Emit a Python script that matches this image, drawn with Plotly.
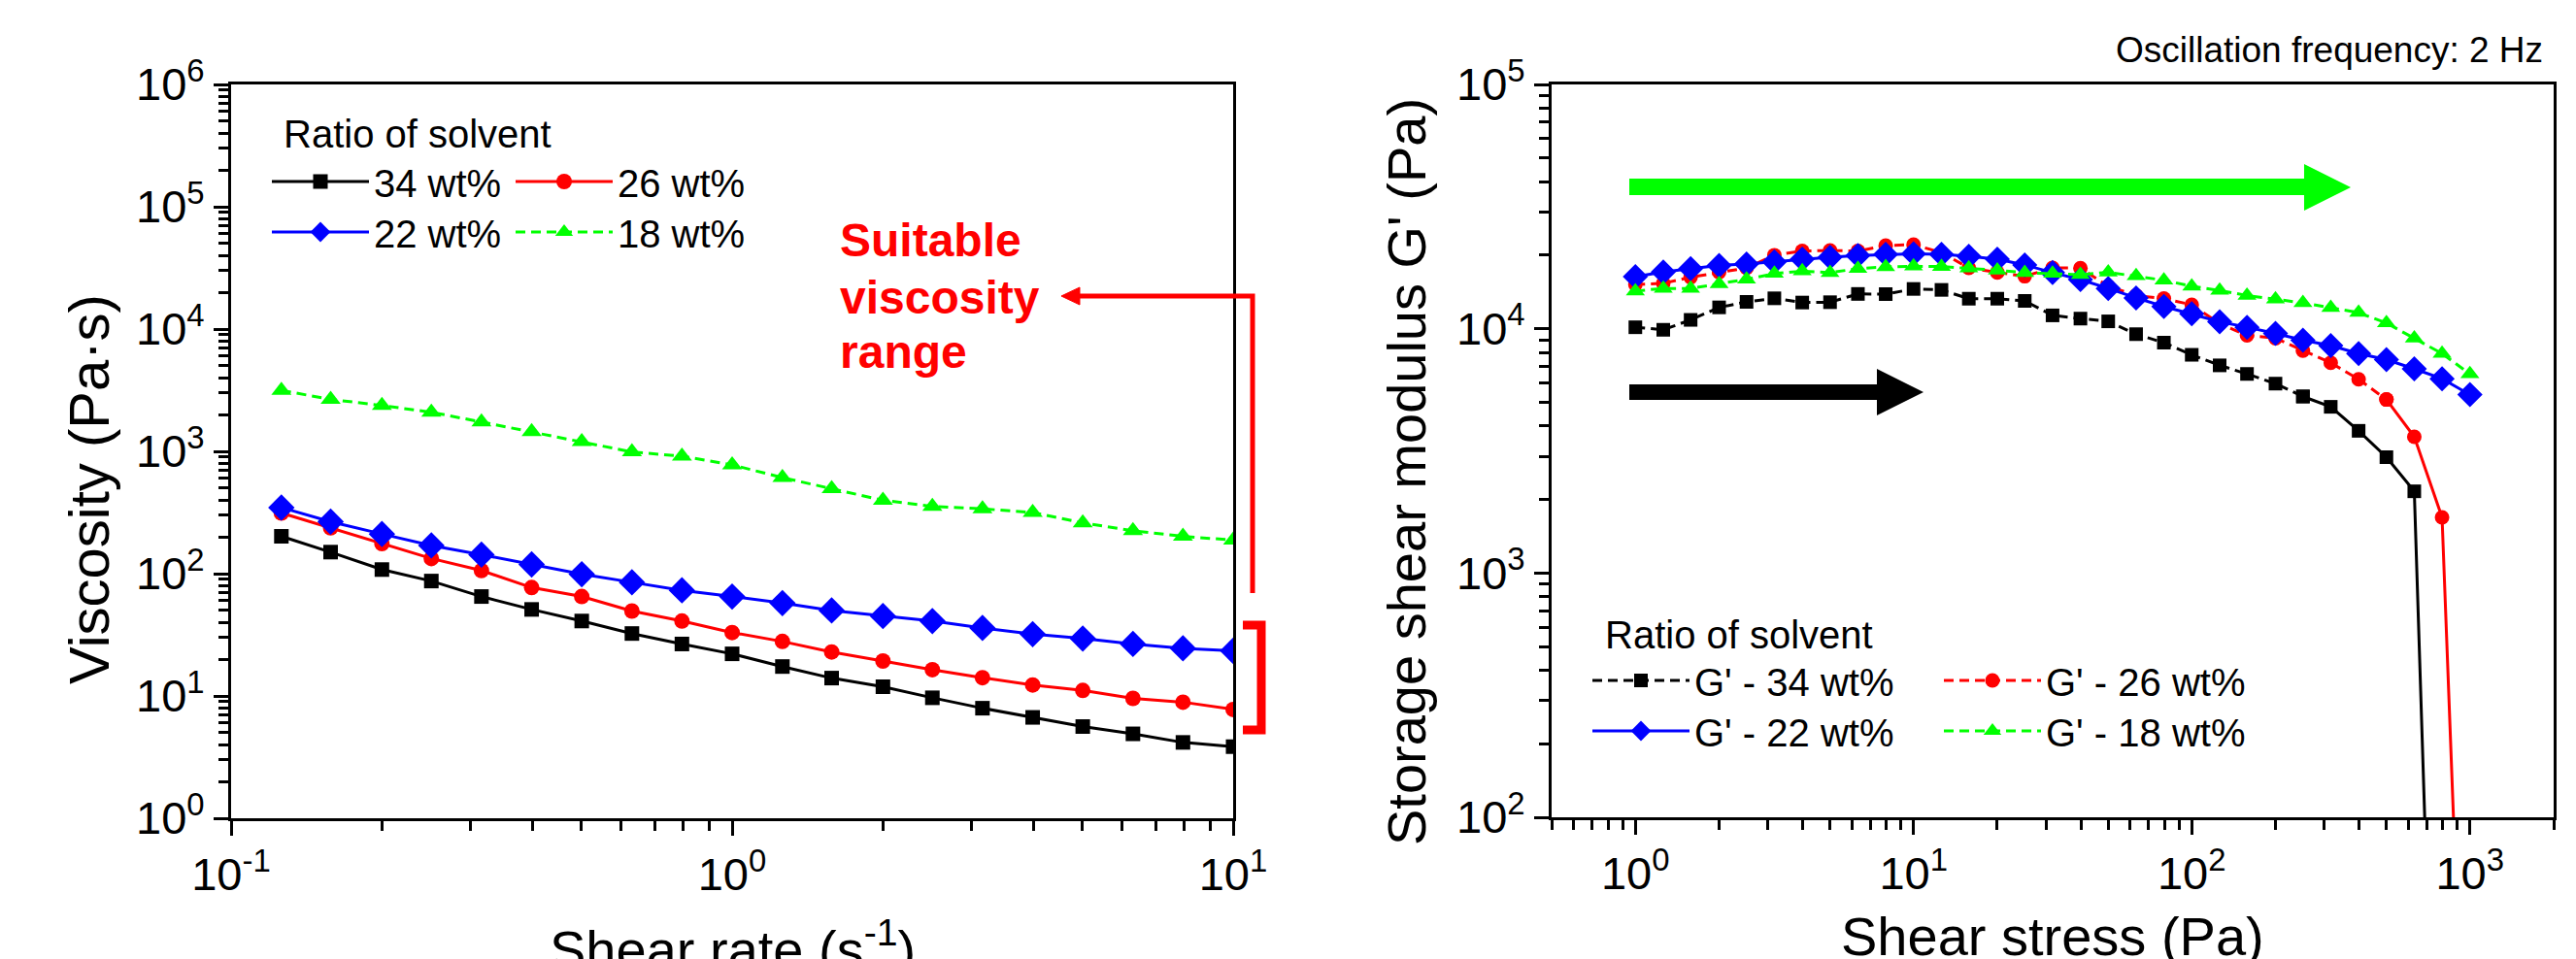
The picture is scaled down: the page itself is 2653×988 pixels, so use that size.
import plotly.graph_objects as go

W, H = 2653, 988

# ---------------- data ----------------
shear_rate = [0.126, 0.158, 0.2, 0.251, 0.316, 0.398, 0.501, 0.631, 0.794, 1.0,
              1.26, 1.58, 2.0, 2.51, 3.16, 3.98, 5.01, 6.31, 7.94, 10.0]
visc_34 = [202, 150, 108, 87, 65, 51, 41, 32.4, 26.6, 22.1, 17.4, 14.0, 11.9, 9.66, 7.94, 6.68, 5.62, 4.9, 4.17, 3.85]
visc_26 = [313, 237, 176, 133, 106, 77, 65, 49.5, 41, 33, 27.9, 22.9, 19.3, 16.4, 14.1, 12.3, 11.1, 9.55, 8.9, 7.76]
visc_22 = [347, 266, 211, 170, 143, 119, 99, 85, 73, 65, 57.5, 50, 45, 41, 36, 32, 29.5, 26.6, 24.5, 23.4]
visc_18 = [3150, 2661, 2371, 2089, 1738, 1445, 1202, 989, 912, 776, 610, 495, 398, 355, 339, 316, 260, 224, 202, 188]

shear_stress = [1.0, 1.26, 1.58, 2.0, 2.51, 3.16, 3.98, 5.01, 6.31, 7.94, 10.0, 12.6, 15.8, 20.0, 25.1,
                31.6, 39.8, 50.1, 63.1, 79.4, 100, 126, 158, 200, 251, 316, 398, 501, 631, 794, 1000]
g_34 = [10140, 9900, 10870, 12230, 12880, 13320, 12800, 12840, 13880, 13860, 14550, 14420, 13270, 13270, 13000,
        11340, 11000, 10720, 9500, 8770, 7820, 7080, 6530, 5960, 5280, 4790, 3820, 2980, 2160, 0.6]
g_26 = [15170, 15350, 16250, 17020, 17740, 20000, 20800, 20900, 20800, 21900, 22100, 20500, 17750, 17000, 16400,
        17750, 17700, 14920, 13680, 13290, 12530, 10490, 9400, 9140, 8140, 7250, 6210, 5130, 3610, 1690, 1.7]
g_22 = [16350, 17060, 17620, 18150, 18400, 18790, 19270, 19610, 19950, 20150, 20270, 20150, 19790, 19250, 18250,
        16970, 15900, 14620, 13370, 12330, 11510, 10680, 10140, 9570, 8980, 8530, 7910, 7470, 6850, 6240, 5370]
g_18 = [14260, 14620, 14620, 15270, 15940, 16820, 17210, 16960, 17630, 17920, 18030, 17960, 17720, 17360, 16960,
        16820, 16640, 17020, 16450, 15800, 14920, 14330, 13680, 13210, 12760, 12190, 11640, 10550, 9140, 7910, 6530]

left_names = ["34 wt%", "26 wt%", "22 wt%", "18 wt%"]
right_names = ["G' - 34 wt%", "G' - 26 wt%", "G' - 22 wt%", "G' - 18 wt%"]
legend_title = "Ratio of solvent"

left_xticks = [0.1, 1, 10]
left_xtext = ["10<sup>-1</sup>", "10<sup>0</sup>", "10<sup>1</sup>"]
left_yticks = [1, 10, 100, 1e3, 1e4, 1e5, 1e6]
left_ytext = ["10<sup>%d</sup>" % i for i in range(7)]
right_xticks = [1, 10, 100, 1000]
right_xtext = ["10<sup>%d</sup>" % i for i in range(4)]
right_yticks = [100, 1e3, 1e4, 1e5]
right_ytext = ["10<sup>%d</sup>" % i for i in range(2, 6)]

# ---------------- styles ----------------
FONT = "Liberation Sans, Arial, sans-serif"
colors = ["#000000", "#ff0000", "#0000ff", "#00ff00"]
symbols = ["square", "circle", "diamond", "triangle-up"]
msize = [15, 16, 21, 18]
left_dash = ["solid", "solid", "solid", "10px,6px"]
right_dash = ["10px,6px", "10px,6px", "solid", "10px,6px"]
# index from which the right-panel curve is drawn with a solid line (drop-off part)
solid_from = [24, 27, None, None]


def px(x):
    return x / W


def py(y):
    return 1 - y / H


def minor_vals(lo, hi):
    vals = []
    for e in range(lo, hi):
        for m in range(2, 10):
            vals.append(m * 10 ** e)
    return vals


fig = go.Figure()

left_series = [visc_34, visc_26, visc_22, visc_18]
for i, ys in enumerate(left_series):
    fig.add_trace(go.Scatter(
        x=shear_rate, y=ys, name=left_names[i], mode="lines+markers",
        line=dict(color=colors[i], width=3, dash=left_dash[i]),
        marker=dict(symbol=symbols[i], size=msize[i], color=colors[i]),
        xaxis="x", yaxis="y",
        legend="legend" if i < 2 else "legend2",
    ))

right_series = [g_34, g_26, g_22, g_18]
for i, ys in enumerate(right_series):
    xs = shear_stress[:len(ys)]
    k = solid_from[i]
    if k is not None:
        # solid tail of the curve, drawn beneath the main trace
        fig.add_trace(go.Scatter(
            x=xs[k:], y=ys[k:], mode="lines", showlegend=False, hoverinfo="skip",
            line=dict(color=colors[i], width=3, dash="solid"),
            xaxis="x2", yaxis="y2",
        ))
    fig.add_trace(go.Scatter(
        x=xs if k is None else xs[:k + 1], y=ys if k is None else ys[:k + 1],
        name=right_names[i], mode="lines+markers",
        line=dict(color=colors[i], width=3, dash=right_dash[i]),
        marker=dict(symbol=symbols[i], size=msize[i] - 1, color=colors[i]),
        xaxis="x2", yaxis="y2",
        legend="legend3" if i < 2 else "legend4",
    ))
    if k is not None:
        fig.add_trace(go.Scatter(
            x=xs[k:], y=ys[k:], mode="markers", showlegend=False, hoverinfo="skip",
            marker=dict(symbol=symbols[i], size=msize[i] - 1, color=colors[i]),
            xaxis="x2", yaxis="y2",
        ))

axis_common = dict(
    type="log", showline=True, linewidth=3, linecolor="black", mirror=True,
    ticks="outside", ticklen=15, tickwidth=3, tickcolor="black",
    showgrid=False, zeroline=False, automargin=False,
    tickfont=dict(family=FONT, size=47, color="black"),
)
minor_common = dict(ticks="outside", ticklen=10, tickwidth=3, tickcolor="black")

fig.update_layout(
    width=W, height=H, autosize=False,
    margin=dict(l=0, r=0, t=0, b=0),
    paper_bgcolor="white", plot_bgcolor="white",
    font=dict(family=FONT, color="black"),
    xaxis=dict(axis_common, domain=[px(230), px(1262)], range=[-1, 1], anchor="y",
               tickvals=left_xticks, ticktext=left_xtext,
               minor=dict(minor_common, tickvals=minor_vals(-1, 1))),
    yaxis=dict(axis_common, domain=[py(835), py(79)], range=[0, 6], anchor="x",
               tickvals=left_yticks, ticktext=left_ytext,
               minor=dict(minor_common, tickvals=minor_vals(0, 6))),
    xaxis2=dict(axis_common, domain=[px(1590), px(2622)], range=[-0.30103, 3.30103], anchor="y2",
                tickvals=right_xticks, ticktext=right_xtext,
                minor=dict(minor_common, tickvals=minor_vals(-1, 4))),
    yaxis2=dict(axis_common, domain=[py(834), py(79)], range=[2, 5], anchor="x2",
                tickvals=right_yticks, ticktext=right_ytext,
                minor=dict(minor_common, tickvals=minor_vals(2, 5))),
    showlegend=True,
)

leg_common = dict(orientation="h", bgcolor="rgba(0,0,0,0)", borderwidth=0,
                  font=dict(family=FONT, size=40, color="black"),
                  xanchor="left", yanchor="middle", itemwidth=100, tracegroupgap=0,
                  entrywidthmode="pixels")
fig.update_layout(
    legend=dict(leg_common, x=px(267), y=py(179), entrywidth=136),
    legend2=dict(leg_common, x=px(267), y=py(231), entrywidth=136),
    legend3=dict(leg_common, x=px(1627), y=py(693), entrywidth=247),
    legend4=dict(leg_common, x=px(1627), y=py(745), entrywidth=247),
)

ann = []
# axis titles
ann.append(dict(text="Viscosity (Pa·s)", x=px(84), y=py(496), textangle=-90,
                font=dict(family=FONT, size=58, color="black")))
ann.append(dict(text="Shear rate (s<sup>-1</sup>)", x=px(746), y=py(966),
                font=dict(family=FONT, size=56, color="black")))
ann.append(dict(text="Storage shear modulus G' (Pa)", x=px(1440), y=py(478), textangle=-90,
                font=dict(family=FONT, size=56, color="black")))
ann.append(dict(text="Shear stress (Pa)", x=px(2106), y=py(956),
                font=dict(family=FONT, size=56, color="black")))
ann.append(dict(text="Oscillation frequency: 2 Hz", x=px(2613), y=py(44), xanchor="right",
                font=dict(family=FONT, size=37, color="black")))
ann.append(dict(text=legend_title, x=px(282), y=py(130), xanchor="left",
                font=dict(family=FONT, size=40, color="black")))
ann.append(dict(text=legend_title, x=px(1643), y=py(646), xanchor="left",
                font=dict(family=FONT, size=40, color="black")))
for t, yy in zip(["Suitable", "viscosity", "range"], [240, 298, 354]):
    ann.append(dict(text="<b>%s</b>" % t, x=px(855), y=py(yy), xanchor="left",
                    font=dict(family=FONT, size=48, color="#ff0000")))
for a in ann:
    a.setdefault("xanchor", "center")
    a.update(xref="paper", yref="paper", yanchor="middle", showarrow=False)
fig.update_layout(annotations=ann)


def path(points, close=False):
    s = "M " + " L ".join("%.5f,%.5f" % (px(a), py(b)) for a, b in points)
    return s + (" Z" if close else "")


shapes = [
    # red arrow
    dict(type="path", path=path([(1282, 603), (1282, 297), (1100, 297)]),
         line=dict(color="#ff0000", width=5)),
    dict(type="path", path=path([(1085, 297), (1104, 288), (1104, 306)], True),
         fillcolor="#ff0000", line=dict(color="#ff0000", width=1)),
    # red bracket
    dict(type="path", path=path([(1272, 636), (1291, 636), (1291, 744), (1272, 744)]),
         line=dict(color="#ff0000", width=9)),
    # green arrow
    dict(type="path", path=path([(1670, 176), (2365, 176), (2365, 161), (2413, 185), (2365, 209),
                                 (2365, 193), (1670, 193)], True),
         fillcolor="#00ff00", line=dict(color="#00ff00", width=0)),
    # black arrow
    dict(type="path", path=path([(1670, 388), (1925, 388), (1925, 372), (1973, 396), (1925, 420),
                                 (1925, 404), (1670, 404)], True),
         fillcolor="#000000", line=dict(color="#000000", width=0)),
]
for s in shapes:
    s.update(xref="paper", yref="paper", layer="above")
fig.update_layout(shapes=shapes)

fig.write_html("out.html")
